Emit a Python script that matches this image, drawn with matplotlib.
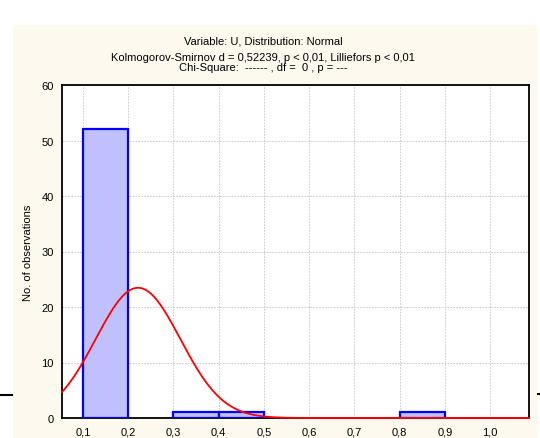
import numpy as np
import matplotlib.pyplot as plt
from matplotlib.patches import Rectangle
from matplotlib.lines import Line2D

# histogram data
bin_left = [0.1, 0.3, 0.4, 0.8]
counts = [52, 1, 1, 1]
bin_width = 0.1
xticks = [0.1, 0.2, 0.3, 0.4, 0.5, 0.6, 0.7, 0.8, 0.9, 1.0]
xtick_labels = ['0,1', '0,2', '0,3', '0,4', '0,5', '0,6', '0,7', '0,8', '0,9', '1,0']
yticks = [0, 10, 20, 30, 40, 50, 60]

# fitted normal curve parameters
n_obs = 55
mu = 0.222
sigma = 0.0935

plt.rcParams['font.family'] = ['Liberation Sans', 'DejaVu Sans']

fig = plt.figure(figsize=(5.4, 4.39), dpi=100)
fig.patch.set_facecolor('white')
W, H = 540, 439

# cream panel behind the plot
fig.patches.append(Rectangle((13 / W, 0), (537 - 13) / W, (H - 26) / H,
                             transform=fig.transFigure, facecolor='#fef9ef',
                             edgecolor='none', zorder=0))
# small black stubs at the edges
fig.lines.append(Line2D([0, 12 / W], [(H - 396) / H] * 2, transform=fig.transFigure,
                        color='black', lw=1.5))
fig.lines.append(Line2D([538 / W, 1], [(H - 395) / H] * 2, transform=fig.transFigure,
                        color='black', lw=1.5))

ax = fig.add_axes([62 / W, (H - 419) / H, (529 - 62) / W, (419 - 86) / H])
ax.set_zorder(5)
ax.set_facecolor('white')

ax.bar(bin_left, counts, width=bin_width, align='edge', color='#c0c0ff',
       edgecolor='#0000ff', linewidth=1.6, zorder=3)

xs = np.linspace(0.054, 1.086, 400)
ys = n_obs * bin_width * np.exp(-0.5 * ((xs - mu) / sigma) ** 2) / (sigma * np.sqrt(2 * np.pi))
ax.plot(xs, ys, color='red', lw=1.3, zorder=4, clip_on=False)

ax.set_xlim(0.054, 1.086)
ax.set_ylim(0, 60)
ax.set_xticks(xticks)
ax.set_xticklabels(xtick_labels)
ax.set_yticks(yticks)
ax.tick_params(length=0, labelsize=8, pad=6)
ax.grid(True, color='#c4c4c4', linestyle=(0, (2, 1.5)), linewidth=0.6, zorder=0)
ax.set_axisbelow(True)
for s in ax.spines.values():
    s.set_linewidth(1.3)
    s.set_color('black')

fig.text(28 / W, (H - 253) / H, 'No. of observations', rotation=90,
         ha='center', va='center', fontsize=8)
fig.text(263 / W, (H - 42) / H, 'Variable: U, Distribution: Normal',
         ha='center', va='center', fontsize=8)
fig.text(263 / W, (H - 58) / H,
         'Kolmogorov-Smirnov d = 0,52239, p < 0,01, Lilliefors p < 0,01',
         ha='center', va='center', fontsize=8)
fig.text(263 / W, (H - 68) / H, 'Chi-Square:  ------ , df =  0 , p = ---',
         ha='center', va='center', fontsize=8)

fig.savefig('out.png', dpi=100)
